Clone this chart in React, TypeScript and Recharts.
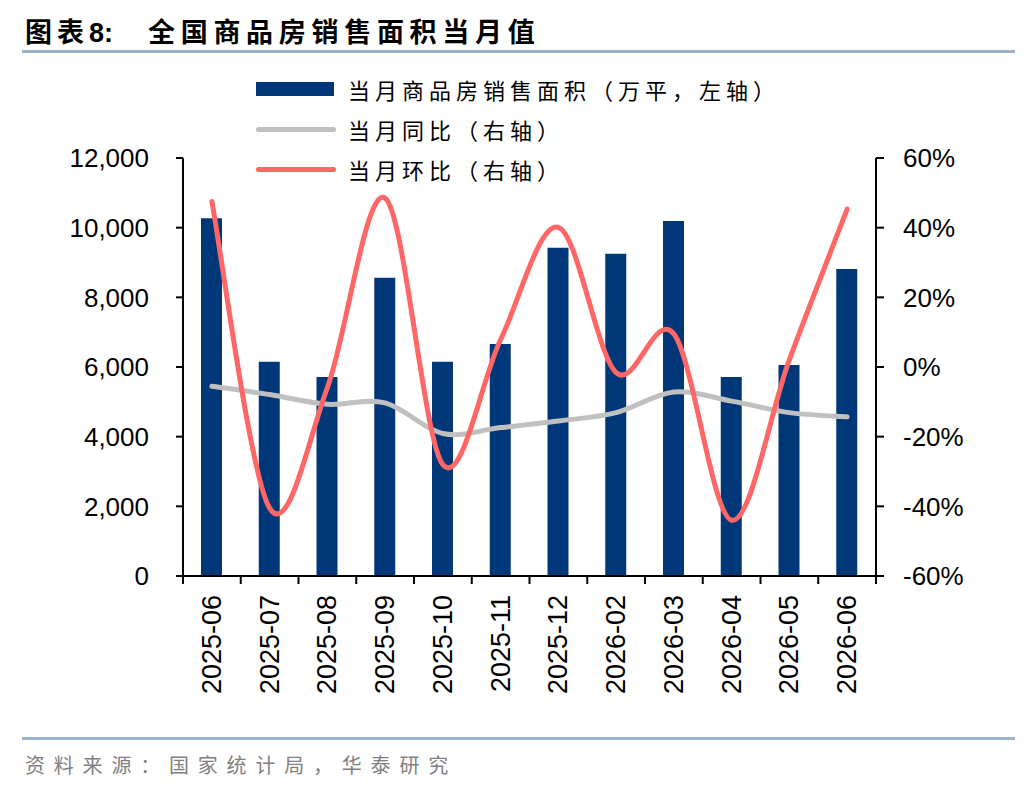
import React from "react";
import { ComposedChart, Bar, Line, XAxis, YAxis } from "recharts";

// 数据
const months = [
  "2025-06", "2025-07", "2025-08", "2025-09", "2025-10", "2025-11",
  "2025-12", "2026-02", "2026-03", "2026-04", "2026-05", "2026-06",
];
const salesArea = [10270, 6150, 5710, 8560, 6150, 6660, 9420, 9250, 10190, 5710, 6060, 8810];
const yoy = [-5.5, -7.9, -10.7, -10.3, -19.1, -17.4, -15.5, -13.1, -7.2, -9.8, -13.1, -14.3];
const mom = [47.5, -40.5, -5.9, 48.5, -28, 7.9, 40.1, -1.6, 9.5, -44, 2.1, 45.3];

const leftTicks = [0, 2000, 4000, 6000, 8000, 10000, 12000];
const rightTicks = [-60, -40, -20, 0, 20, 40, 60];

const data = months.map((m, i) => ({ month: m, area: salesArea[i], yoy: yoy[i], mom: mom[i] }));

const W = 1036;
const H = 792;
const PLOT_LEFT = 183;
const PLOT_RIGHT = 876;
const PLOT_TOP = 158;
const PLOT_BOTTOM = 576;
const BW = (PLOT_RIGHT - PLOT_LEFT) / months.length;

const BAR = "#003778";
const GRAY = "#C0C0C0";
const RED = "#FF6666";
const RULE = "#9CB2CC";
const CJK = '"Noto Sans CJK SC", "Noto Sans", sans-serif';
const LATIN = '"Liberation Sans", Arial, sans-serif';

// Excel 风格平滑线（Catmull-Rom）
function excelSmooth(context: any) {
  let pts: number[][] = [];
  return {
    areaStart() {},
    areaEnd() {},
    lineStart() {
      pts = [];
    },
    point(x: number, y: number) {
      pts.push([+x, +y]);
    },
    lineEnd() {
      const n = pts.length;
      if (!n) return;
      context.moveTo(pts[0][0], pts[0][1]);
      for (let i = 0; i < n - 1; i++) {
        const p0 = pts[i - 1] || pts[i];
        const p1 = pts[i];
        const p2 = pts[i + 1];
        const p3 = pts[i + 2] || p2;
        context.bezierCurveTo(
          p1[0] + (p2[0] - p0[0]) / 6,
          p1[1] + (p2[1] - p0[1]) / 6,
          p2[0] - (p3[0] - p1[0]) / 6,
          p2[1] - (p3[1] - p1[1]) / 6,
          p2[0],
          p2[1]
        );
      }
    },
  };
}

const XTick = ({ x, y, payload, index }: any) => {
  const ty = y + 19;
  return (
    <g>
      <line x1={x - BW / 2} x2={x - BW / 2} y1={y} y2={y + 8} stroke="#000" strokeWidth={2} />
      {index === months.length - 1 && (
        <line x1={x + BW / 2} x2={x + BW / 2} y1={y} y2={y + 8} stroke="#000" strokeWidth={2} />
      )}
      <text
        x={x}
        y={ty}
        transform={`rotate(-90, ${x}, ${ty})`}
        textAnchor="end"
        dominantBaseline="central"
        fontFamily={LATIN}
        fontSize={27}
        fill="#000"
      >
        {payload.value}
      </text>
    </g>
  );
};

const legendItems = [
  { label: "当月商品房销售面积（万平，左轴）", color: BAR, kind: "bar" },
  { label: "当月同比（右轴）", color: GRAY, kind: "line" },
  { label: "当月环比（右轴）", color: RED, kind: "line" },
];

export default function App() {
  return (
    <div style={{ position: "absolute", left: 0, top: 0, width: W, height: H, background: "#fff" }}>
      {/* 标题 */}
      <div
        style={{
          position: "absolute",
          left: 25,
          top: 12,
          fontFamily: CJK,
          fontWeight: 700,
          fontSize: 27,
          lineHeight: "38px",
          whiteSpace: "nowrap",
          color: "#000",
        }}
      >
        <span style={{ letterSpacing: 5 }}>图表</span>
        <span style={{ fontFamily: LATIN }}>8:</span>
        <span style={{ marginLeft: 35, letterSpacing: 5.7 }}>全国商品房销售面积当月值</span>
      </div>
      <div style={{ position: "absolute", left: 22, top: 50, width: 993, height: 3, background: RULE }} />

      {/* 图例 */}
      <div style={{ position: "absolute", left: 256, top: 69 }}>
        {legendItems.map((it) => (
          <div key={it.label} style={{ display: "flex", alignItems: "center", height: 40 }}>
            <div style={{ width: 80, display: "flex", alignItems: "center" }}>
              {it.kind === "bar" ? (
                <div style={{ width: 78, height: 14, background: it.color }} />
              ) : (
                <div style={{ width: 80, height: 5, borderRadius: 3, background: it.color }} />
              )}
            </div>
            <span
              style={{
                marginLeft: 12,
                fontFamily: CJK,
                fontSize: 22,
                letterSpacing: 5,
                color: "#000",
                whiteSpace: "nowrap",
              }}
            >
              {it.label}
            </span>
          </div>
        ))}
      </div>

      <div style={{ position: "absolute", left: 0, top: 0 }}>
        <ComposedChart
          width={W}
          height={H}
          data={data}
          margin={{ top: PLOT_TOP, right: 0, bottom: 0, left: 0 }}
        >
          <XAxis
            dataKey="month"
            height={H - PLOT_BOTTOM}
            interval={0}
            tickSize={0}
            tickMargin={0}
            tickLine={false}
            axisLine={{ stroke: "#000", strokeWidth: 2 }}
            tick={(p: any) => <XTick {...p} />}
          />
          <YAxis
            yAxisId="left"
            orientation="left"
            width={PLOT_LEFT}
            domain={[0, 12000]}
            ticks={leftTicks}
            interval={0}
            tickSize={7}
            tickMargin={27}
            tickLine={{ stroke: "#000", strokeWidth: 2 }}
            axisLine={{ stroke: "#000", strokeWidth: 2 }}
            tickFormatter={(v: number) => v.toLocaleString("en-US")}
            tick={{ fill: "#000", fontSize: 26, fontFamily: LATIN }}
          />
          <YAxis
            yAxisId="right"
            orientation="right"
            width={W - PLOT_RIGHT}
            domain={[-60, 60]}
            ticks={rightTicks}
            interval={0}
            tickSize={8}
            tickMargin={19}
            tickLine={{ stroke: "#000", strokeWidth: 2 }}
            axisLine={{ stroke: "#000", strokeWidth: 2 }}
            tickFormatter={(v: number) => `${v}%`}
            tick={{ fill: "#000", fontSize: 26, fontFamily: LATIN }}
          />
          <Bar yAxisId="left" dataKey="area" fill={BAR} barSize={21} isAnimationActive={false} />
          <Line
            yAxisId="right"
            dataKey="yoy"
            type={excelSmooth as any}
            stroke={GRAY}
            strokeWidth={5}
            strokeLinecap="round"
            dot={false}
            activeDot={false}
            isAnimationActive={false}
          />
          <Line
            yAxisId="right"
            dataKey="mom"
            type={excelSmooth as any}
            stroke={RED}
            strokeWidth={5}
            strokeLinecap="round"
            dot={false}
            activeDot={false}
            isAnimationActive={false}
          />
        </ComposedChart>
      </div>

      {/* 资料来源 */}
      <div style={{ position: "absolute", left: 22, top: 737, width: 993, height: 3, background: RULE }} />
      <div
        style={{
          position: "absolute",
          left: 25,
          top: 750,
          fontFamily: CJK,
          fontSize: 20,
          lineHeight: "30px",
          letterSpacing: 8.8,
          color: "#808080",
          whiteSpace: "nowrap",
        }}
      >
        资料来源：国家统计局，华泰研究
      </div>
    </div>
  );
}
